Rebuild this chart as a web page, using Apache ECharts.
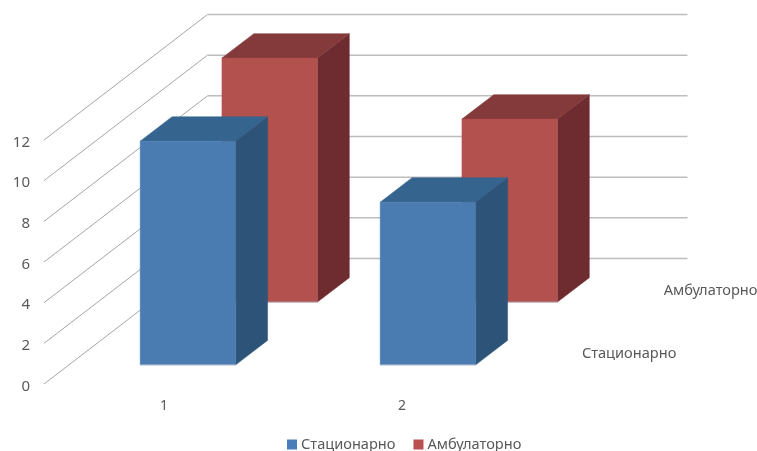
<!DOCTYPE html>
<html><head><meta charset="utf-8">
<style>html,body{margin:0;padding:0;background:#fff}#c{width:757px;height:451px}</style>
<script src="https://cdn.jsdelivr.net/npm/echarts@6/dist/echarts.min.js"></script>
</head><body><div id="c"></div>
<script>
const categories = ['1', '2'];
const yTicks = [0, 2, 4, 6, 8, 10, 12];
const stationaryName = 'Стационарно';
const ambulatoryName = 'Амбулаторно';
const stationaryValues = [11, 8];
const ambulatoryValues = [12, 9];

const FONT = '"Noto Sans"';
const TEXT = '#595959';
// oblique projection of the depth axis, in pixels for a full depth of 1
const DX = 163.5, DY = -125.5;
const BAR_W = 95.5, BAR_DEPTH = 0.195, NUDGE = -1;

function bar3d(depthCentre, front, side, top) {
  return function (params, api) {
    const x = api.value(0), v = api.value(1);
    const d0 = depthCentre - BAR_DEPTH / 2;
    const base = api.coord([x, 0]), head = api.coord([x, v]);
    const L = base[0] + DX * d0 + NUDGE - BAR_W / 2, R = L + BAR_W;
    const by = base[1] + DY * d0, ty = head[1] + DY * d0;
    const ox = DX * BAR_DEPTH, oy = DY * BAR_DEPTH;
    const poly = (pts, fill) => ({type: 'polygon', shape: {points: pts},
      style: {fill: fill, stroke: fill, lineWidth: 0.5}});
    return {type: 'group', children: [
      poly([[R, by], [R + ox, by + oy], [R + ox, ty + oy], [R, ty]], side),
      poly([[L, ty], [R, ty], [R + ox, ty + oy], [L + ox, ty + oy]], top),
      poly([[L, ty], [R, ty], [R, by], [L, by]], front),
      {type: 'line', shape: {x1: L, y1: by, x2: R, y2: by},
       style: {stroke: '#a9b6c6', lineWidth: 1, opacity: 0.8}}
    ]};
  };
}

function wall(params, api) {
  const v = api.value(1);
  const y = api.coord([0, v])[1];
  const cs = params.coordSys;
  const x0 = cs.x, x1 = cs.x + DX, x2 = cs.x + cs.width + DX, yb = y + DY;
  return {type: 'group', children: [
    {type: 'line', shape: {x1: x0, y1: y, x2: x1, y2: yb},
     style: {stroke: '#a6a6a6', lineWidth: 1}},
    {type: 'line', shape: {x1: x1, y1: yb, x2: x2, y2: yb},
     style: {stroke: '#bdbdbd', lineWidth: 1.5}}
  ]};
}

function depthLabel(params, api) {
  const cs = params.coordSys;
  const d = api.value(1);
  return {type: 'text', style: {
    x: cs.x + cs.width + DX * d + 17, y: cs.y + cs.height + DY * d + 1,
    text: api.value(2), fill: TEXT, font: '14.6px ' + FONT,
    textAlign: 'left', textVerticalAlign: 'middle'}};
}

const makeData = vals => categories.map((c, i) => [i, vals[i]]);

const chart = echarts.init(document.getElementById('c'), null, {renderer: 'canvas'});
chart.setOption({
  animation: false,
  backgroundColor: '#fff',
  grid: {left: 44, top: 140, width: 480, height: 244, containLabel: false},
  legend: {
    data: [stationaryName, ambulatoryName],
    left: 287, top: 437, padding: 0, icon: 'rect', itemWidth: 10, itemHeight: 10, itemGap: 18,
    textStyle: {color: TEXT, fontFamily: FONT, fontSize: 14.6, padding: [0, 0, 0, -1]}
  },
  xAxis: {
    type: 'category', data: categories,
    axisLine: {show: false}, axisTick: {show: false}, splitLine: {show: false},
    axisLabel: {
      color: TEXT, fontFamily: FONT, fontSize: 14, margin: 15,
      formatter: v => v === categories[1] ? '{s|' + v + '}' : v,
      rich: {s: {padding: [0, 4, 0, 0], color: TEXT, fontFamily: FONT, fontSize: 14}}
    }
  },
  yAxis: {
    type: 'value', min: 0, max: 12, interval: 2,
    axisLine: {show: false}, axisTick: {show: false}, splitLine: {show: false},
    axisLabel: {
      margin: 14,
      formatter: v => '{t|' + v + '}',
      rich: {t: {padding: [5, 0, 0, 0], color: TEXT, fontFamily: FONT, fontSize: 15}}
    }
  },
  series: [
    {type: 'custom', name: 'walls', z: 1, silent: true, renderItem: wall,
     data: yTicks.map(v => [0, v]), encode: {x: 0, y: 1}},
    {type: 'custom', name: 'depth', z: 1, silent: true, renderItem: depthLabel,
     data: [[0, 0.25, stationaryName], [0, 0.75, ambulatoryName]], encode: {x: 0}},
    {type: 'custom', name: ambulatoryName, z: 2, renderItem: bar3d(0.75, '#b3514e', '#6f2c30', '#843a3b'),
     itemStyle: {color: '#b8514f'}, data: makeData(ambulatoryValues), encode: {x: 0, y: 1}},
    {type: 'custom', name: stationaryName, z: 3, renderItem: bar3d(0.25, '#4a7cb1', '#2e5378', '#35648e'),
     itemStyle: {color: '#4a7ebb'}, data: makeData(stationaryValues), encode: {x: 0, y: 1}}
  ]
});
</script></body></html>
